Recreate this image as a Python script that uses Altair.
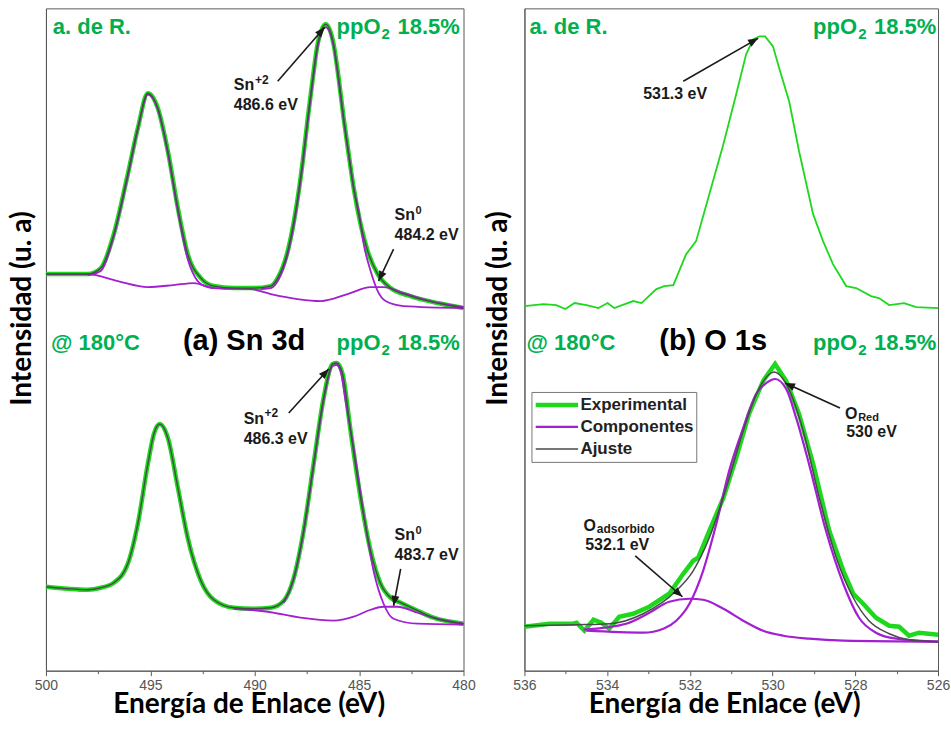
import math
import altair as alt
import pandas as pd

# ---------------------------------------------------------------- colours
GREEN_TXT = "#00B050"
GREEN_LINE = "#1ED81E"
PURPLE = "#A21FD2"
FIT_GRAY = "#4A4A4A"
INK = "#1A1A1A"
FRAME = "#595959"

# ---------------------------------------------------------------- Sn 3d, a. de R. (energia eV / intensidad u.a.)
SN_RT_E = [500.00, 498.00, 497.37, 496.75, 496.08, 495.60, 495.12, 494.64, 494.16, 493.68,
           493.21, 492.58, 491.96, 491.00, 490.05, 489.23, 488.90, 488.42, 488.04, 487.70,
           487.46, 487.22, 486.99, 486.60, 486.22, 485.98, 485.74, 485.50, 485.26, 484.93,
           484.59, 484.11, 483.49, 482.54, 481.24, 480.00]
SN_RT_EXP = [397, 397, 403, 437, 497, 543, 578, 563, 520, 463,
             417, 393, 385, 383, 383, 385, 393, 420, 460, 510,
             553, 593, 627, 647, 627, 593, 553, 517, 483, 447,
             420, 397, 383, 375, 368, 363]

SN_RT_BG_E = [500.00, 497.99, 496.56, 495.12, 493.88, 492.92, 491.96, 490.19, 489.23, 486.84,
              485.55, 484.45, 483.83, 482.87, 481.58, 480.00]
SN_RT_BG = [397, 397, 390, 384, 386, 388, 383, 382, 377, 370,
            377, 384, 384, 378, 370, 364]

SN_RT_P1_E = [498.00, 497.37, 496.75, 496.08, 495.60, 495.12, 494.64, 494.16, 493.68, 493.21,
              492.73, 492.25, 491.96]
SN_RT_P1 = [396, 400, 435, 495, 542, 577, 562, 518, 460, 412, 390, 384, 383]

SN_RT_P2_E = [489.71, 489.23, 488.90, 488.42, 488.04, 487.70, 487.46, 487.22, 486.99, 486.60,
              486.22, 485.98, 485.74, 485.50, 485.26, 485.02, 484.78, 484.45, 484.11, 483.73,
              482.87, 480.00]
SN_RT_P2 = [382, 383, 390, 417, 457, 507, 550, 590, 624, 644,
            625, 591, 551, 517, 483, 460, 427, 400, 380, 370,
            365, 363]

# ---------------------------------------------------------------- Sn 3d, @ 180 °C
SN_HT_E = [500.00, 498.95, 497.99, 497.37, 496.75, 496.08, 495.60, 495.12, 494.83, 494.55,
           494.16, 493.68, 493.21, 492.58, 491.96, 491.00, 490.05, 489.23, 488.61, 488.13,
           487.66, 487.18, 486.70, 486.27, 486.08, 485.79, 485.41, 484.93, 484.45, 483.97,
           483.49, 483.01, 482.20, 481.44, 480.00]
SN_HT_EXP = [84, 82, 81, 83, 88, 107, 147, 207, 237, 247,
             233, 183, 133, 90, 71, 63, 62, 63, 70, 93,
             140, 207, 273, 307, 308, 297, 240, 173, 120, 87,
             73, 68, 60, 53, 47]

SN_HT_BG_E = [491.00, 489.38, 487.80, 486.22, 485.26, 484.45, 483.83, 483.16, 482.20, 481.44, 480.00]
SN_HT_BG = [62, 59, 53, 50, 54, 61, 64, 64, 58, 53, 47]

SN_HT_P2_E = [488.61, 488.13, 487.66, 487.18, 486.70, 486.27, 486.08, 485.89, 485.65, 485.26,
              484.78, 484.31, 483.83, 483.35, 482.20, 480.00]
SN_HT_P2 = [68, 92, 139, 205, 271, 305, 306, 300, 270, 223, 157, 100, 67, 52, 47, 46]

# ---------------------------------------------------------------- O 1s, a. de R.
O_RT_E = [536.00, 535.54, 535.23, 535.01, 534.79, 534.50, 534.21, 533.99, 533.83, 533.37,
          533.17, 532.81, 532.62, 532.40, 532.09, 531.85, 531.53, 531.19, 530.88, 530.64,
          530.47, 530.32, 530.18, 529.99, 529.84, 529.60, 529.36, 529.02, 528.78, 528.54,
          528.22, 527.98, 527.62, 527.43, 527.18, 526.82, 526.53, 526.00]
O_RT_EXP = [365, 367, 366, 362, 368, 366, 363, 368, 363, 370,
            368, 382, 385, 386, 417, 430, 477, 527, 577, 617,
            632, 635, 635, 625, 603, 570, 520, 457, 430, 407,
            385, 383, 375, 373, 366, 368, 364, 363]

# ---------------------------------------------------------------- O 1s, @ 180 °C
O_HT_E = [536.00, 535.40, 534.82, 534.74, 534.55, 534.33, 534.14, 533.95, 533.71, 533.37,
          532.98, 532.50, 532.16, 531.92, 531.80, 531.53, 531.19, 530.88, 530.57, 530.23,
          529.94, 529.67, 529.36, 529.02, 528.63, 528.29, 528.05, 527.81, 527.50, 527.18,
          526.94, 526.70, 526.46, 526.00]
O_HT_EXP = [44, 47, 47, 48, 40, 51, 48, 42, 54, 57,
            64, 77, 97, 110, 113, 140, 173, 213, 257, 290,
            307, 290, 257, 207, 140, 100, 77, 67, 53, 45,
            44, 35, 38, 36]

O_HT_FIT_E = [536.00, 534.74, 533.95, 533.13, 532.33, 531.92, 531.53, 531.12, 530.71, 530.32,
              529.96, 529.67, 529.26, 528.87, 528.46, 528.05, 527.67, 527.18, 526.70, 526.00]
O_HT_FIT = [45, 46, 47, 57, 80, 100, 133, 183, 240, 283,
            299, 287, 240, 173, 113, 73, 50, 37, 31, 29]

O_RED_E = [534.50, 533.13, 532.64, 532.33, 532.01, 531.68, 531.36, 531.05, 530.71, 530.40,
           530.15, 529.94, 529.67, 529.43, 529.12, 528.71, 528.29, 527.91, 527.50, 527.01, 526.00]
O_RED = [40, 38, 42, 50, 67, 100, 147, 200, 243, 277,
         288, 292, 282, 253, 207, 140, 87, 53, 38, 32, 29]

O_ADS_E = [534.57, 533.54, 532.98, 532.50, 532.01, 531.68, 531.19, 530.71, 530.23, 529.74,
           529.12, 528.29, 526.00]
O_ADS = [41, 47, 58, 69, 72, 71, 62, 50, 40, 35, 32, 30, 29]

SERIES = ["Experimental", "Componentes", "Ajuste"]
SERIES_WIDTH = [4.5, 2.2, 1.5]

# ---------------------------------------------------------------- labels: (text, E, I, font size, colour)
LABELS_SN = [
    ("a. de R.", 499.67, 637, 22, GREEN_TXT),
    ("ppO", 486.08, 637, 22, GREEN_TXT),
    ("2", 483.93, 632, 15, GREEN_TXT),
    ("18.5%", 483.16, 637, 22, GREEN_TXT),
    ("@ 180°C", 499.76, 321, 22, GREEN_TXT),
    ("(a) Sn 3d", 493.44, 321, 29, "black"),
    ("ppO", 486.08, 321, 22, GREEN_TXT),
    ("2", 483.93, 316, 15, GREEN_TXT),
    ("18.5%", 483.16, 321, 22, GREEN_TXT),
    ("Sn", 491.00, 581, 16, INK),
    ("+2", 489.99, 587, 12, INK),
    ("486.6 eV", 491.00, 561, 16, INK),
    ("Sn", 483.30, 451, 16, INK),
    ("0", 482.30, 457, 11, INK),
    ("484.2 eV", 483.30, 431, 16, INK),
    ("Sn", 490.53, 247, 16, INK),
    ("+2", 489.53, 254, 12, INK),
    ("486.3 eV", 490.53, 227, 16, INK),
    ("Sn", 483.30, 131, 16, INK),
    ("0", 482.30, 137, 11, INK),
    ("483.7 eV", 483.30, 111, 16, INK),
]
LABELS_O = [
    ("a. de R.", 535.88, 637, 22, GREEN_TXT),
    ("ppO", 529.02, 637, 22, GREEN_TXT),
    ("2", 527.93, 632, 15, GREEN_TXT),
    ("18.5%", 527.55, 637, 22, GREEN_TXT),
    ("@ 180°C", 535.95, 321, 22, GREEN_TXT),
    ("(b) O 1s", 532.74, 321, 29, "black"),
    ("ppO", 529.02, 321, 22, GREEN_TXT),
    ("2", 527.93, 316, 15, GREEN_TXT),
    ("18.5%", 527.55, 321, 22, GREEN_TXT),
    ("531.3 eV", 533.13, 572, 16, INK),
    ("O", 528.25, 252, 16, INK),
    ("Red", 527.93, 250, 11, INK),
    ("530 eV", 528.22, 234, 16, INK),
    ("O", 534.57, 140, 16, INK),
    ("adsorbido", 534.25, 138, 12, INK),
    ("532.1 eV", 534.53, 121, 16, INK),
]

# arrows: (E start, I start, E tip, I tip)
ARROWS_SN = [
    (488.90, 590, 486.65, 644),
    (483.35, 422, 484.07, 390),
    (488.37, 258, 486.46, 302),
    (483.01, 102, 483.35, 65),
]
ARROWS_O = [
    (532.16, 590, 530.35, 633),
    (528.37, 263, 529.70, 288),
    (533.32, 115, 532.18, 74),
]

# ---------------------------------------------------------------- geometry
H = 663
W_SN = 418
W_O = 414
I_DOMAIN = [0, 663]
HEAD = "M0,0 L-0.4,1 L0.4,1 Z"
TITLE_SIZE = 28


def curve(E, I, serie=None):
    df = pd.DataFrame({"E": E, "I": I, "i": list(range(len(E)))})
    if serie is not None:
        df["serie"] = serie
    return df


def x_axis(values, major, title_x):
    test = f"datum.value % {major} === 0"
    return alt.Axis(
        values=values, grid=False, labelExpr=f"{test} ? datum.label : ''",
        tickSize={"condition": {"test": test, "value": 5}, "value": 3},
        tickColor=FRAME, domainColor=FRAME, labelFont="Liberation Sans",
        labelFontSize=14, labelColor="#555555", labelPadding=3,
        labelOverlap=False, labelFlush=False,
        title="Energía de Enlace (eV)", titleFont="Lato", titleFontSize=TITLE_SIZE,
        titleFontWeight="bold", titleColor="black", titleX=title_x, titleY=42,
        titleAlign="center", titleBaseline="alphabetic",
    )


def y_axis(title_x):
    return alt.Axis(
        labels=False, ticks=False, grid=False, domainColor=FRAME,
        title="Intensidad (u. a)", titleFont="Lato", titleFontSize=TITLE_SIZE,
        titleFontWeight="bold", titleColor="black", titleAngle=270,
        titleX=title_x, titleY=300, titleAlign="center", titleBaseline="alphabetic",
    )


def panel(domain, values, major, width, title_x, ytitle_x, lines, labels, arrows):
    span = domain[1] - domain[0]
    xs = alt.Scale(domain=domain, reverse=True, nice=False, zero=False)
    ys = alt.Scale(domain=I_DOMAIN, nice=False, zero=False)
    xa = x_axis(values, major, title_x)
    ya = y_axis(ytitle_x)
    x = alt.X("E:Q", scale=xs, axis=xa)
    y = alt.Y("I:Q", scale=ys, axis=ya)

    layers = []
    for df, mark_kw, extra in lines:
        enc = dict(x=x, y=y, order="i:Q")
        enc.update(extra)
        layers.append(alt.Chart(df).mark_line(**mark_kw).encode(**enc))

    lab = pd.DataFrame(labels, columns=["txt", "E", "I", "fs", "col"])
    layers.append(
        alt.Chart(lab).mark_text(font="Liberation Sans", fontWeight="bold",
                                 align="left", baseline="alphabetic").encode(
            x=x, y=y, text="txt:N",
            size=alt.Size("fs:Q", scale=None),
            color=alt.Color("col:N", scale=None),
        )
    )

    rows = []
    for e0, i0, e1, i1 in arrows:
        dx = -(e1 - e0) * width / span
        dy = -(i1 - i0) * H / (I_DOMAIN[1] - I_DOMAIN[0])
        ang = math.degrees(math.atan2(dx, -dy)) % 360
        rows.append({"E": e0, "I": i0, "E2": e1, "I2": i1, "ang": ang})
    arr = pd.DataFrame(rows)
    layers.append(
        alt.Chart(arr).mark_rule(color=INK, strokeWidth=1.6).encode(
            x=x, y=y, x2="E2:Q", y2="I2:Q")
    )
    layers.append(
        alt.Chart(arr).mark_point(shape=HEAD, filled=True, size=400, color=INK,
                                  opacity=1, strokeWidth=0).encode(
            x=alt.X("E2:Q", scale=xs, axis=xa),
            y=alt.Y("I2:Q", scale=ys, axis=ya),
            angle=alt.Angle("ang:Q", scale=None),
        )
    )
    return alt.layer(*layers).properties(width=width, height=H)


SMOOTH = "monotone"

sn_lines = [
    (curve(SN_RT_E, SN_RT_EXP), dict(color=GREEN_LINE, strokeWidth=4.5, interpolate=SMOOTH), {}),
    (curve(SN_RT_BG_E, SN_RT_BG), dict(color=PURPLE, strokeWidth=1.8, interpolate=SMOOTH), {}),
    (curve(SN_RT_P1_E, SN_RT_P1), dict(color=PURPLE, strokeWidth=1.8, interpolate=SMOOTH), {}),
    (curve(SN_RT_P2_E, SN_RT_P2), dict(color=PURPLE, strokeWidth=1.8, interpolate=SMOOTH), {}),
    (curve(SN_RT_E, SN_RT_EXP), dict(color=FIT_GRAY, strokeWidth=1.4, interpolate=SMOOTH), {}),
    (curve(SN_HT_E, SN_HT_EXP), dict(color=GREEN_LINE, strokeWidth=4.5, interpolate=SMOOTH), {}),
    (curve(SN_HT_BG_E, SN_HT_BG), dict(color=PURPLE, strokeWidth=1.8, interpolate=SMOOTH), {}),
    (curve(SN_HT_P2_E, SN_HT_P2), dict(color=PURPLE, strokeWidth=1.8, interpolate=SMOOTH), {}),
    (curve(SN_HT_E, SN_HT_EXP), dict(color=FIT_GRAY, strokeWidth=1.4, interpolate=SMOOTH), {}),
]

legend = alt.Legend(
    orient="none", legendX=7, legendY=384, title=None, symbolType="stroke",
    symbolSize=1800, clipHeight=22, padding=2, rowPadding=0, labelOffset=0,
    labelFont="Liberation Sans", labelFontWeight="bold", labelFontSize=17,
    labelColor="#222222", strokeColor="#777777", fillColor="white", labelLimit=0,
)
serie_enc = {
    "color": alt.Color("serie:N", scale=alt.Scale(domain=SERIES, range=[GREEN_LINE, PURPLE, FIT_GRAY]),
                       legend=legend),
    "strokeWidth": alt.StrokeWidth("serie:N", scale=alt.Scale(type="ordinal", domain=SERIES,
                                                              range=SERIES_WIDTH), legend=legend),
}

o_lines = [
    (curve(O_RT_E, O_RT_EXP), dict(color=GREEN_LINE, strokeWidth=1.8), {}),
    (curve(O_HT_E, O_HT_EXP, "Experimental"), dict(), serie_enc),
    (curve(O_RED_E, O_RED, "Componentes"), dict(interpolate=SMOOTH), serie_enc),
    (curve(O_ADS_E, O_ADS, "Componentes"), dict(interpolate=SMOOTH), serie_enc),
    (curve(O_HT_FIT_E, O_HT_FIT, "Ajuste"), dict(interpolate=SMOOTH), serie_enc),
]

left = panel([480, 500], [500 - 2.5 * k for k in range(9)], 5, W_SN, 203, -15,
             sn_lines, LABELS_SN, ARROWS_SN)
right = panel([526, 536], [536 - k for k in range(11)], 2, W_O, 200, -18,
              o_lines, LABELS_O, ARROWS_O)

chart = (
    alt.hconcat(left, right, spacing=61, bounds="flush")
    .resolve_scale(x="independent", y="independent", color="independent",
                   strokeWidth="independent")
    .properties(padding={"left": 8, "top": 7, "right": 0, "bottom": 0})
    .configure_view(stroke=FRAME, strokeWidth=1)
)

chart.save("out.html", embed_options={"renderer": "svg", "actions": False})
